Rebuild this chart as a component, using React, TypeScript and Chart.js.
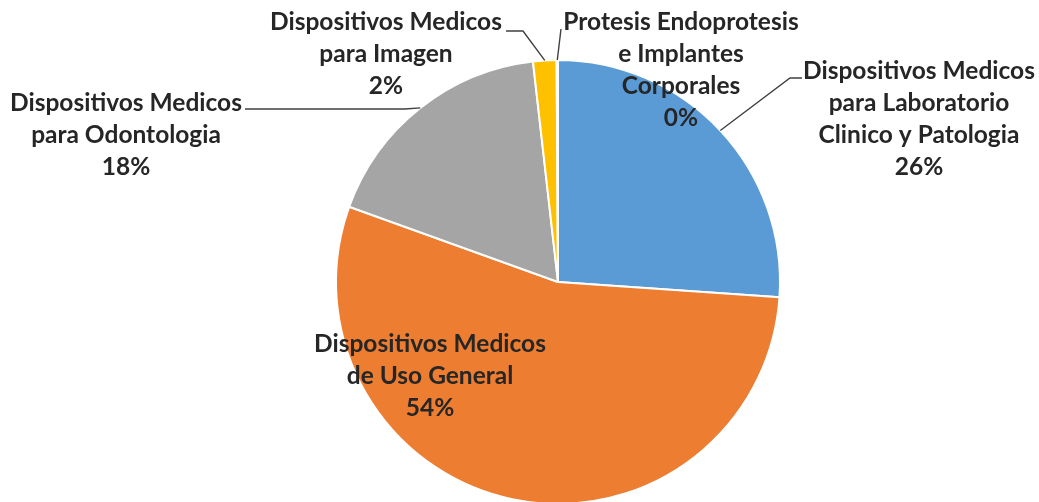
import React, { useEffect, useRef } from "react";
import { Chart, registerables } from "chart.js";

Chart.register(...registerables);

const categories = [
  "Dispositivos Medicos para Laboratorio Clinico y Patologia",
  "Dispositivos Medicos de Uso General",
  "Dispositivos Medicos para Odontologia",
  "Dispositivos Medicos para Imagen",
  "Protesis Endoprotesis e Implantes Corporales",
];
const labelLines = [
  ["Dispositivos Medicos", "para Laboratorio", "Clinico y Patologia"],
  ["Dispositivos Medicos", "de Uso General"],
  ["Dispositivos Medicos", "para Odontologia"],
  ["Dispositivos Medicos", "para Imagen"],
  ["Protesis Endoprotesis", "e Implantes", "Corporales"],
];
const values = [26.1, 54.4, 17.7, 1.7, 0.1];
const colors = ["#5B9BD5", "#ED7D31", "#A5A5A5", "#FFC000", "#4472C4"];

// label layout: center x, first line center y, leader (start, elbow) or null
const labelLayout = [
  { cx: 919, cy: 71, leader: { sx: 802, sy: 78, ex: 790, ey: 78 } },
  { cx: 430, cy: 344, leader: null },
  { cx: 126, cy: 103, leader: { sx: 245, sy: 109, ex: 405, ey: 109 } },
  { cx: 386, cy: 22, leader: { sx: 506, sy: 31, ex: 523, ey: 31 } },
  { cx: 681, cy: 22, leader: { sx: 561, sy: 29, ex: 561, ey: 29 } },
];

const LINE_H = 32;
const FONT_FAMILY = "Lato, 'Open Sans', sans-serif";

const labelPlugin = {
  id: "excelLabels",
  afterDatasetsDraw(chart: any) {
    const ctx = chart.ctx as CanvasRenderingContext2D;
    const meta = chart.getDatasetMeta(0);
    const data = chart.data.datasets[0].data as number[];
    const total = data.reduce((a, b) => a + b, 0);
    ctx.save();
    ctx.font = `bold 20px ${FONT_FAMILY}`;
    const w = ctx.measureText("Dispositivos Medicos").width;
    const size = (20 * 232) / w;
    ctx.font = `bold ${size.toFixed(2)}px ${FONT_FAMILY}`;
    ctx.textAlign = "center";
    ctx.textBaseline = "middle";
    ctx.fillStyle = "#262626";
    meta.data.forEach((arc: any, i: number) => {
      const lay = labelLayout[i];
      const lines = [...labelLines[i], Math.round((data[i] / total) * 100) + "%"];
      lines.forEach((t, k) => ctx.fillText(t, lay.cx, lay.cy + k * LINE_H));
      if (lay.leader) {
        const p = arc.getProps(["x", "y", "startAngle", "endAngle", "outerRadius"], true);
        const mid = (p.startAngle + p.endAngle) / 2;
        const px = p.x + Math.cos(mid) * p.outerRadius;
        const py = p.y + Math.sin(mid) * p.outerRadius;
        ctx.beginPath();
        ctx.strokeStyle = "#404040";
        ctx.lineWidth = 1.4;
        ctx.moveTo(lay.leader.sx, lay.leader.sy);
        ctx.lineTo(lay.leader.ex, lay.leader.ey);
        ctx.lineTo(px, py);
        ctx.stroke();
      }
    });
    ctx.restore();
  },
};

export default function App() {
  const ref = useRef<HTMLCanvasElement>(null);
  useEffect(() => {
    if (!ref.current) return;
    const chart = new Chart(ref.current, {
      type: "pie",
      data: {
        labels: categories,
        datasets: [
          {
            data: values,
            backgroundColor: colors,
            borderColor: "#FFFFFF",
            borderWidth: 2,
            radius: 222,
          },
        ],
      },
      options: {
        responsive: false,
        animation: false,
        layout: { padding: { top: 60, bottom: 16, left: 336, right: 259 } },
        plugins: {
          legend: { display: false },
          tooltip: { enabled: false },
        },
      },
      plugins: [labelPlugin],
    });
    return () => chart.destroy();
  }, []);
  return (
    <div
      style={{
        position: "fixed",
        left: 0,
        top: 0,
        width: 1039,
        height: 502,
        overflow: "hidden",
        background: "#FFFFFF",
      }}
    >
      <canvas ref={ref} width={1039} height={520} style={{ width: 1039, height: 520, display: "block" }} />
    </div>
  );
}
